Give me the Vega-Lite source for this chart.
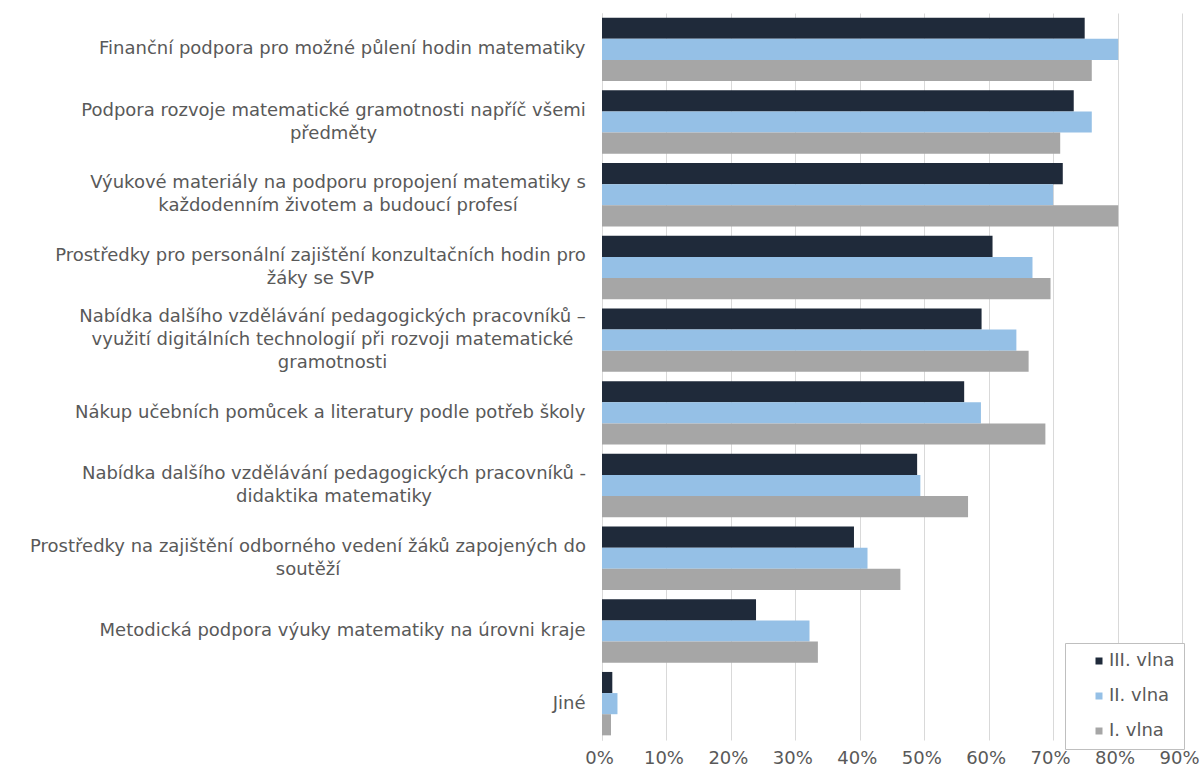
{
  "$schema": "https://vega.github.io/schema/vega-lite/v6.json",
  "width": 580,
  "height": 727,
  "autosize": {"type": "none"},
  "padding": {"left": 602, "top": 13, "right": 21, "bottom": 31},
  "background": "#ffffff",
  "config": {"view": {"stroke": null}, "font": "DejaVu Sans"},
  "data": {
    "values": [
      {"cat": "Finanční podpora pro možné půlení hodin matematiky", "wave": "III. vlna", "value": 0.749},
      {"cat": "Finanční podpora pro možné půlení hodin matematiky", "wave": "II. vlna", "value": 0.801},
      {"cat": "Finanční podpora pro možné půlení hodin matematiky", "wave": "I. vlna", "value": 0.760},
      {"cat": "Podpora rozvoje matematické gramotnosti napříč všemi|předměty", "wave": "III. vlna", "value": 0.732},
      {"cat": "Podpora rozvoje matematické gramotnosti napříč všemi|předměty", "wave": "II. vlna", "value": 0.760},
      {"cat": "Podpora rozvoje matematické gramotnosti napříč všemi|předměty", "wave": "I. vlna", "value": 0.711},
      {"cat": "Výukové materiály na podporu propojení matematiky s|každodenním životem a budoucí profesí", "wave": "III. vlna", "value": 0.715},
      {"cat": "Výukové materiály na podporu propojení matematiky s|každodenním životem a budoucí profesí", "wave": "II. vlna", "value": 0.700},
      {"cat": "Výukové materiály na podporu propojení matematiky s|každodenním životem a budoucí profesí", "wave": "I. vlna", "value": 0.801},
      {"cat": "Prostředky pro personální zajištění konzultačních hodin pro|žáky se SVP", "wave": "III. vlna", "value": 0.606},
      {"cat": "Prostředky pro personální zajištění konzultačních hodin pro|žáky se SVP", "wave": "II. vlna", "value": 0.668},
      {"cat": "Prostředky pro personální zajištění konzultačních hodin pro|žáky se SVP", "wave": "I. vlna", "value": 0.696},
      {"cat": "Nabídka dalšího vzdělávání  pedagogických pracovníků –|využití digitálních technologií při rozvoji matematické|gramotnosti", "wave": "III. vlna", "value": 0.589},
      {"cat": "Nabídka dalšího vzdělávání  pedagogických pracovníků –|využití digitálních technologií při rozvoji matematické|gramotnosti", "wave": "II. vlna", "value": 0.643},
      {"cat": "Nabídka dalšího vzdělávání  pedagogických pracovníků –|využití digitálních technologií při rozvoji matematické|gramotnosti", "wave": "I. vlna", "value": 0.662},
      {"cat": "Nákup učebních pomůcek a literatury podle potřeb školy", "wave": "III. vlna", "value": 0.562},
      {"cat": "Nákup učebních pomůcek a literatury podle potřeb školy", "wave": "II. vlna", "value": 0.588},
      {"cat": "Nákup učebních pomůcek a literatury podle potřeb školy", "wave": "I. vlna", "value": 0.688},
      {"cat": "Nabídka dalšího vzdělávání pedagogických pracovníků -|didaktika matematiky", "wave": "III. vlna", "value": 0.489},
      {"cat": "Nabídka dalšího vzdělávání pedagogických pracovníků -|didaktika matematiky", "wave": "II. vlna", "value": 0.494},
      {"cat": "Nabídka dalšího vzdělávání pedagogických pracovníků -|didaktika matematiky", "wave": "I. vlna", "value": 0.568},
      {"cat": "Prostředky na zajištění odborného vedení žáků zapojených do|soutěží", "wave": "III. vlna", "value": 0.391},
      {"cat": "Prostředky na zajištění odborného vedení žáků zapojených do|soutěží", "wave": "II. vlna", "value": 0.412},
      {"cat": "Prostředky na zajištění odborného vedení žáků zapojených do|soutěží", "wave": "I. vlna", "value": 0.463},
      {"cat": "Metodická podpora výuky matematiky na úrovni kraje", "wave": "III. vlna", "value": 0.239},
      {"cat": "Metodická podpora výuky matematiky na úrovni kraje", "wave": "II. vlna", "value": 0.322},
      {"cat": "Metodická podpora výuky matematiky na úrovni kraje", "wave": "I. vlna", "value": 0.335},
      {"cat": "Jiné", "wave": "III. vlna", "value": 0.016},
      {"cat": "Jiné", "wave": "II. vlna", "value": 0.024},
      {"cat": "Jiné", "wave": "I. vlna", "value": 0.014}
    ]
  },
  "mark": {"type": "bar"},
  "encoding": {
    "y": {
      "field": "cat",
      "type": "nominal",
      "sort": [
        "Finanční podpora pro možné půlení hodin matematiky",
        "Podpora rozvoje matematické gramotnosti napříč všemi|předměty",
        "Výukové materiály na podporu propojení matematiky s|každodenním životem a budoucí profesí",
        "Prostředky pro personální zajištění konzultačních hodin pro|žáky se SVP",
        "Nabídka dalšího vzdělávání  pedagogických pracovníků –|využití digitálních technologií při rozvoji matematické|gramotnosti",
        "Nákup učebních pomůcek a literatury podle potřeb školy",
        "Nabídka dalšího vzdělávání pedagogických pracovníků -|didaktika matematiky",
        "Prostředky na zajištění odborného vedení žáků zapojených do|soutěží",
        "Metodická podpora výuky matematiky na úrovni kraje",
        "Jiné"
      ],
      "scale": {"paddingInner": 0.128, "paddingOuter": 0.064},
      "axis": {
        "title": null,
        "labelExpr": "split(datum.label, '|')",
        "labelFontSize": 18,
        "labelColor": "#595959",
        "labelLineHeight": 23,
        "labelLimit": 0,
        "labelAlign": {
          "condition": {"test": "indexof(datum.value, '|') >= 0", "value": "center"},
          "value": "right"
        },
        "labelPadding": {
          "condition": [
            {"test": "indexof(datum.value, 'Podpora rozvoje') == 0", "value": 269},
            {"test": "indexof(datum.value, 'Výukové') == 0", "value": 264.5},
            {"test": "indexof(datum.value, 'Prostředky pro') == 0", "value": 282},
            {"test": "indexof(datum.value, 'gramotnosti') > 60", "value": 270},
            {"test": "indexof(datum.value, 'didaktika') >= 0", "value": 268.5},
            {"test": "indexof(datum.value, 'Prostředky na') == 0", "value": 294.5}
          ],
          "value": 17
        },
        "labelOffset": {
          "condition": [
            {"test": "length(split(datum.value, '|')) == 3", "value": -23},
            {"test": "length(split(datum.value, '|')) == 2", "value": -11.5}
          ],
          "value": 0
        },
        "ticks": false,
        "domainColor": "#d9d9d9"
      }
    },
    "yOffset": {
      "field": "wave",
      "type": "nominal",
      "sort": ["III. vlna", "II. vlna", "I. vlna"],
      "scale": {"paddingInner": 0, "paddingOuter": 0}
    },
    "x": {
      "field": "value",
      "type": "quantitative",
      "scale": {"domain": [0, 0.9], "nice": false},
      "axis": {
        "title": null,
        "format": ".0%",
        "values": [0, 0.1, 0.2, 0.3, 0.4, 0.5, 0.6, 0.7, 0.8, 0.9],
        "grid": true,
        "gridColor": "#d9d9d9",
        "domain": false,
        "ticks": false,
        "labelFlush": false,
        "labelOffset": -3,
        "labelFontSize": 18,
        "labelColor": "#595959",
        "labelPadding": 9
      }
    },
    "color": {
      "field": "wave",
      "type": "nominal",
      "scale": {
        "domain": ["III. vlna", "II. vlna", "I. vlna"],
        "range": ["#1f2a3a", "#95c0e6", "#a6a6a6"]
      },
      "legend": {
        "title": null,
        "orient": "none",
        "legendX": 463,
        "legendY": 630,
        "symbolType": "square",
        "symbolSize": 49,
        "symbolStrokeWidth": 0,
        "labelFontSize": 18,
        "labelColor": "#595959",
        "labelOffset": 1,
        "fillColor": "#ffffff",
        "strokeColor": "#bfbfbf",
        "padding": 9,
        "rowPadding": 17,
        "symbolOffset": 16
      }
    }
  }
}
